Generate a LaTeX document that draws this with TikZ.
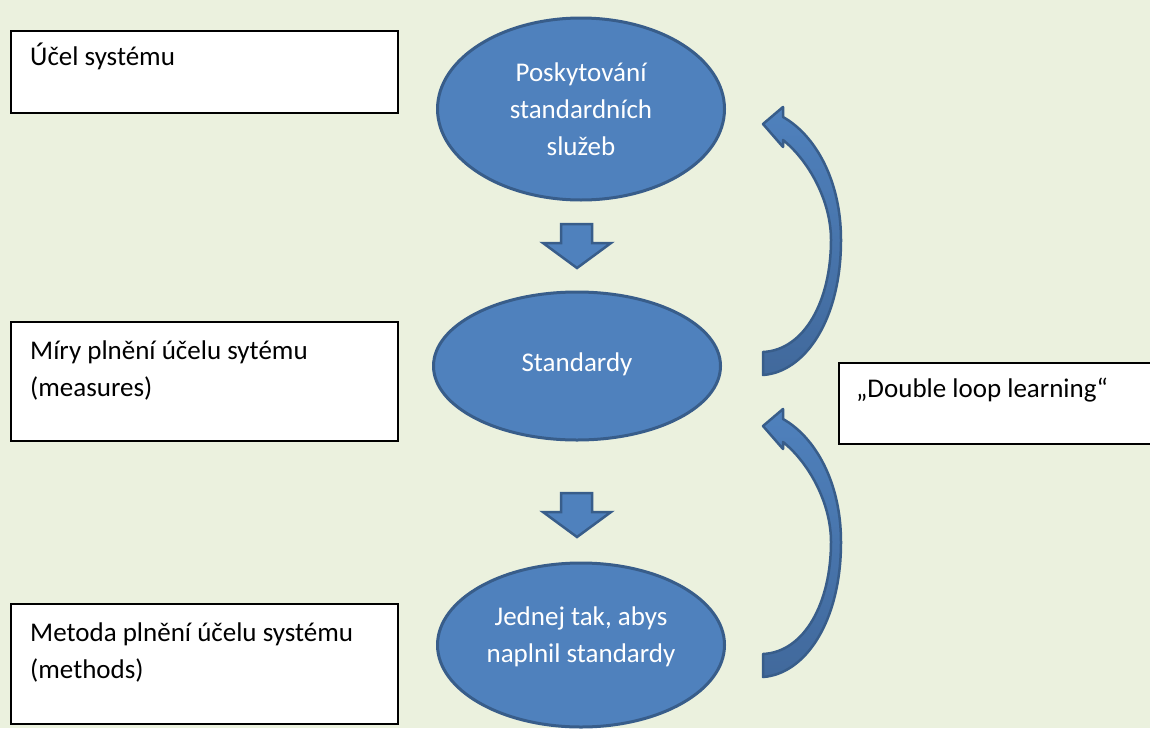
\documentclass[tikz,border=0pt]{standalone}
\usepackage{fontspec}
\setmainfont{Carlito}
\usetikzlibrary{shapes.geometric}
\definecolor{bg}{HTML}{EBF1DE}
\definecolor{accent}{HTML}{4F81BD}
\definecolor{accentdark}{HTML}{385D8A}
\definecolor{accentdeep}{HTML}{41699C}
\begin{document}
\begin{tikzpicture}[x=1pt,y=-1pt,
  infobox/.style={draw=black, line width=1.5pt, fill=white, anchor=north west, inner sep=0pt},
  boxlabel/.style={anchor=base west, align=left, inner sep=0pt, text=black,
    font=\fontsize{27}{37}\selectfont},
  oval/.style={ellipse, draw=accentdark, line width=3pt, fill=accent, inner sep=0pt},
  ovallabel/.style={align=center, inner sep=0pt, text=white,
    font=\fontsize{27}{37}\selectfont},
  blockarrow/.style={draw=accentdark, line width=2.5pt, fill=accent, line join=miter},
  bendarrow/.style={draw=accentdark, line width=2.5pt, top color=accent,
    bottom color=accentdeep, line join=round},
  downblock/.pic={
    \path[blockarrow] (-16,0) -- (15,0) -- (15,19) -- (34,19) -- (0,44)
      -- (-34,19) -- (-16,19) -- cycle;
  },
  loopback/.pic={
    \path[bendarrow] (0,23) .. controls (42,20) and (78,-32) .. (78,-112)
      .. controls (78,-172) and (52,-217) .. (20,-235)
      -- (20,-245) -- (0,-228) -- (20,-205) -- (20,-212)
      .. controls (45,-192) and (68,-152) .. (68,-112)
      .. controls (68,-52) and (42,-2) .. (0,0) -- cycle;
  }
]
% page and background
\fill[bg] (0,0) rectangle (1150,728);
\useasboundingbox (0,0) rectangle (1150,728);
\clip (0,0) rectangle (1150,728);

% left column: descriptions (base anchor of a two-line label is its last line)
\node[infobox, minimum width=387pt, minimum height=82pt] (purpose) at (10,30) {};
\node[boxlabel] (purposetext) at ([xshift=20pt,yshift=-35pt]purpose.north west)
  {Účel systému};

\node[infobox, minimum width=387pt, minimum height=119pt] (measures) at (10,321) {};
\node[boxlabel] (measurestext) at ([xshift=20pt,yshift=-75pt]measures.north west)
  {Míry plnění účelu sytému\\(measures)};

\node[infobox, minimum width=387pt, minimum height=120pt] (methods) at (10,603) {};
\node[boxlabel] (methodstext) at ([xshift=20pt,yshift=-75pt]methods.north west)
  {Metoda plnění účelu systému\\(methods)};

% right column: the loop
\node[infobox, minimum width=340pt, minimum height=81pt] (loop) at (838,362) {};
\node[boxlabel] (looptext) at ([xshift=18pt,yshift=-35pt]loop.north west)
  {„Double loop learning“};

% middle column: the chain of ovals
\node[oval, minimum width=287pt, minimum height=182pt] (service) at (581,109) {};
\node[ovallabel] (servicetext) at (581,109) {Poskytování\\standardních\\služeb};

\node[oval, minimum width=287pt, minimum height=148pt] (standards) at (577,366) {};
\node[ovallabel] (standardstext) at (577,364) {Standardy};

\node[oval, minimum width=287pt, minimum height=164pt] (action) at (581,645) {};
\node[ovallabel] (actiontext) at (581,637) {Jednej tak, abys\\naplnil standardy};

% block arrows between the ovals
\pic at (577,224) {downblock};
\pic at (577,493) {downblock};

% feedback arrows on the right
\pic at (763,352) {loopback};
\pic at (763,654) {loopback};
\end{tikzpicture}
\end{document}
